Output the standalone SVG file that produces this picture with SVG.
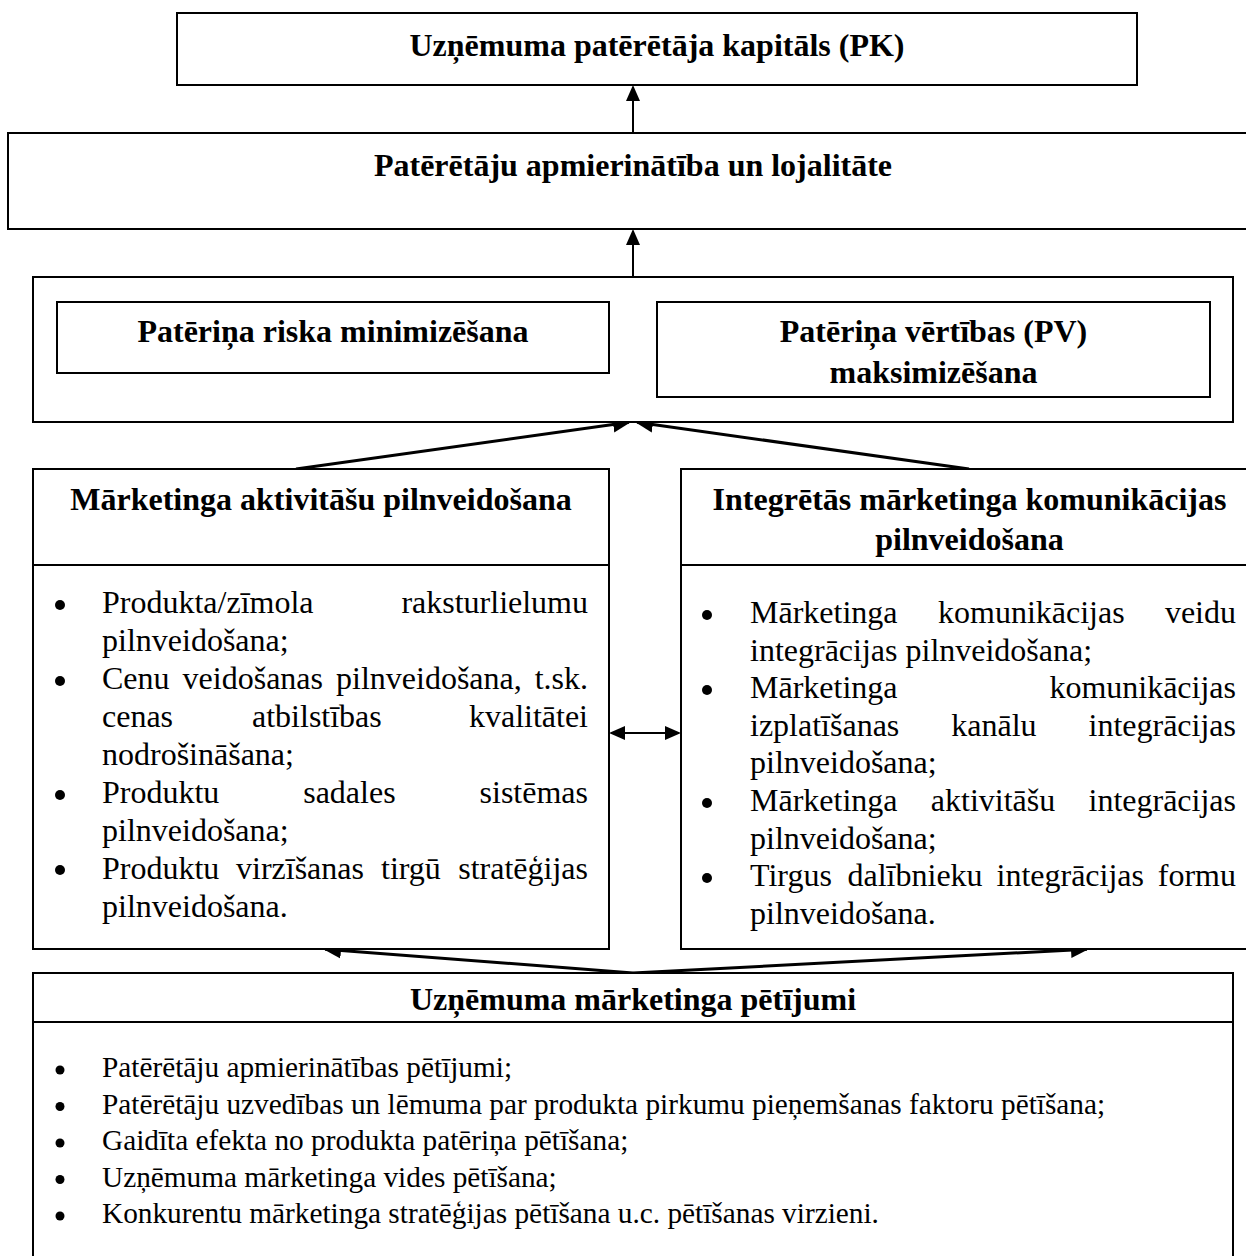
<svg xmlns="http://www.w3.org/2000/svg" width="1246" height="1256" viewBox="0 0 1246 1256">
  <style>
    .box { fill: #fff; stroke: #000; stroke-width: 2; }
    .sep { stroke: #000; stroke-width: 2; }
    .ttl { font-family: "Liberation Serif", "Times New Roman", serif; font-weight: bold; font-size: 32px; text-anchor: middle; fill: #000; }
    .txt { font-family: "Liberation Serif", "Times New Roman", serif; font-size: 32px; fill: #000; }
    .sm { font-size: 29.3px; }
    .end { text-anchor: end; }
    .wire { fill: none; stroke: #000; stroke-width: 2; }
    .wire-thick { fill: none; stroke: #000; stroke-width: 3; }
    .dot { fill: #000; }
  </style>
  <defs>
    <marker id="arrow" markerUnits="userSpaceOnUse" markerWidth="16" markerHeight="15" refX="14" refY="7" orient="auto-start-reverse" viewBox="0 0 16 14">
      <path d="M0,0 L16,7 L0,14 Z" fill="#000"/>
    </marker>
    <marker id="arrow-big" markerUnits="userSpaceOnUse" markerWidth="18" markerHeight="17" refX="16" refY="8" orient="auto" viewBox="0 0 18 16">
      <path d="M0,0 L18,8 L0,16 Z" fill="#000"/>
    </marker>
  </defs>

  <rect width="1246" height="1256" fill="#fff"/>

  <!-- connectors -->
  <g id="connectors">
    <line class="wire" x1="633" y1="133" x2="633" y2="87" marker-end="url(#arrow)"/>
    <line class="wire" x1="633" y1="277" x2="633" y2="231" marker-end="url(#arrow)"/>
    <line class="wire" x1="611" y1="350" x2="655" y2="350" marker-start="url(#arrow)" marker-end="url(#arrow)"/>
    <line class="wire-thick" x1="296" y1="469" x2="629" y2="422.3" marker-end="url(#arrow-big)"/>
    <line class="wire-thick" x1="969" y1="469" x2="637" y2="422.3" marker-end="url(#arrow-big)"/>
    <line class="wire" x1="611" y1="733" x2="679" y2="733" marker-start="url(#arrow)" marker-end="url(#arrow)"/>
    <line class="wire-thick" x1="633" y1="973" x2="325" y2="949.2" marker-end="url(#arrow-big)"/>
    <line class="wire-thick" x1="633" y1="973" x2="1087" y2="949.2" marker-end="url(#arrow-big)"/>
  </g>

  <!-- customer equity -->
  <g id="node-capital">
    <rect class="box" x="177" y="13" width="960" height="72"/>
    <text class="ttl" x="657" y="56" font-size="29">Uzņēmuma patērētāja kapitāls (PK)</text>
  </g>

  <!-- satisfaction and loyalty -->
  <g id="node-loyalty">
    <rect class="box" x="8" y="133" width="1260" height="96"/>
    <text class="ttl" x="633" y="176">Patērētāju apmierinātība un lojalitāte</text>
  </g>

  <!-- risk / value container -->
  <g id="node-value">
    <rect class="box" x="33" y="277" width="1200" height="145"/>
  </g>
  <g id="node-risk">
    <rect class="box" x="57" y="302" width="552" height="71"/>
    <text class="ttl" x="333" y="342">Patēriņa riska minimizēšana</text>
  </g>
  <g id="node-pv">
    <rect class="box" x="657" y="302" width="553" height="95"/>
    <text class="ttl" x="933.5" y="342">Patēriņa vērtības (PV)</text>
    <text class="ttl" x="933.5" y="383">maksimizēšana</text>
  </g>

  <!-- marketing activities -->
  <g id="node-activities">
    <rect class="box" x="33" y="469" width="576" height="480"/>
    <line class="sep" x1="33" y1="565" x2="609" y2="565"/>
    <text class="ttl" x="321" y="510">Mārketinga aktivitāšu pilnveidošana</text>
    <circle class="dot" cx="60" cy="605" r="5"/>
    <circle class="dot" cx="60" cy="681" r="5"/>
    <circle class="dot" cx="60" cy="795" r="5"/>
    <circle class="dot" cx="60" cy="870" r="5"/>
    <text class="txt" y="613"><tspan x="102">Produkta/zīmola</tspan><tspan class="end" x="588">raksturlielumu</tspan></text>
    <text class="txt" x="102" y="651">pilnveidošana;</text>
    <text class="txt" y="689"><tspan x="102">Cenu</tspan><tspan x="182.6">veidošanas</tspan><tspan x="336">pilnveidošana,</tspan><tspan class="end" x="588">t.sk.</tspan></text>
    <text class="txt" y="727"><tspan x="102">cenas</tspan><tspan x="252">atbilstības</tspan><tspan class="end" x="588">kvalitātei</tspan></text>
    <text class="txt" x="102" y="765">nodrošināšana;</text>
    <text class="txt" y="803"><tspan x="102">Produktu</tspan><tspan x="303.2">sadales</tspan><tspan class="end" x="588">sistēmas</tspan></text>
    <text class="txt" x="102" y="841">pilnveidošana;</text>
    <text class="txt" y="879"><tspan x="102">Produktu</tspan><tspan x="236">virzīšanas</tspan><tspan x="381">tirgū</tspan><tspan class="end" x="588">stratēģijas</tspan></text>
    <text class="txt" x="102" y="917">pilnveidošana.</text>
  </g>

  <!-- integrated marketing communications -->
  <g id="node-imc">
    <rect class="box" x="681" y="469" width="600" height="480"/>
    <line class="sep" x1="681" y1="565" x2="1260" y2="565"/>
    <text class="ttl" x="969.5" y="510">Integrētās mārketinga komunikācijas</text>
    <text class="ttl" x="969.5" y="550">pilnveidošana</text>
    <circle class="dot" cx="707" cy="615" r="5"/>
    <circle class="dot" cx="707" cy="690" r="5"/>
    <circle class="dot" cx="707" cy="803" r="5"/>
    <circle class="dot" cx="707" cy="878" r="5"/>
    <text class="txt" y="623"><tspan x="750">Mārketinga</tspan><tspan x="938">komunikācijas</tspan><tspan class="end" x="1236">veidu</tspan></text>
    <text class="txt" x="750" y="660.6">integrācijas pilnveidošana;</text>
    <text class="txt" y="698.2"><tspan x="750">Mārketinga</tspan><tspan class="end" x="1236">komunikācijas</tspan></text>
    <text class="txt" y="735.8"><tspan x="750">izplatīšanas</tspan><tspan x="951.3">kanālu</tspan><tspan class="end" x="1236">integrācijas</tspan></text>
    <text class="txt" x="750" y="773.4">pilnveidošana;</text>
    <text class="txt" y="811"><tspan x="750">Mārketinga</tspan><tspan x="930.8">aktivitāšu</tspan><tspan class="end" x="1236">integrācijas</tspan></text>
    <text class="txt" x="750" y="848.6">pilnveidošana;</text>
    <text class="txt" y="886.2"><tspan x="750">Tirgus</tspan><tspan x="847.5">dalībnieku</tspan><tspan x="996.5">integrācijas</tspan><tspan class="end" x="1236">formu</tspan></text>
    <text class="txt" x="750" y="923.8">pilnveidošana.</text>
  </g>

  <!-- marketing research -->
  <g id="node-research">
    <rect class="box" x="33" y="973" width="1200" height="300"/>
    <line class="sep" x1="33" y1="1022" x2="1233" y2="1022"/>
    <text class="ttl" x="633" y="1010" font-size="26.5">Uzņēmuma mārketinga pētījumi</text>
    <circle class="dot" cx="60" cy="1070" r="4.5"/>
    <circle class="dot" cx="60" cy="1106.5" r="4.5"/>
    <circle class="dot" cx="60" cy="1143" r="4.5"/>
    <circle class="dot" cx="60" cy="1179.5" r="4.5"/>
    <circle class="dot" cx="60" cy="1216" r="4.5"/>
    <text class="txt sm" x="102" y="1077">Patērētāju apmierinātības pētījumi;</text>
    <text class="txt sm" x="102" y="1113.5">Patērētāju uzvedības un lēmuma par produkta pirkumu pieņemšanas faktoru pētīšana;</text>
    <text class="txt sm" x="102" y="1150">Gaidīta efekta no produkta patēriņa pētīšana;</text>
    <text class="txt sm" x="102" y="1186.5">Uzņēmuma mārketinga vides pētīšana;</text>
    <text class="txt sm" x="102" y="1223">Konkurentu mārketinga stratēģijas pētīšana u.c. pētīšanas virzieni.</text>
  </g>
</svg>
